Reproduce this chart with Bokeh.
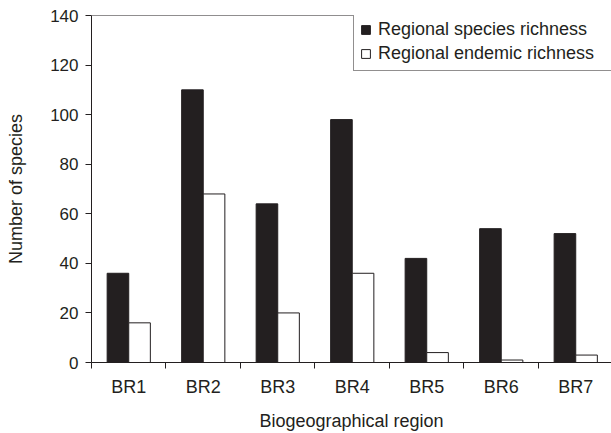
import numpy as np
from bokeh.plotting import figure
from bokeh.models import (ColumnDataSource, FixedTicker, LinearAxis, Legend, LegendItem,
                          Range1d, Span)
from bokeh.embed import file_html
from bokeh.resources import INLINE

categories = ["BR1", "BR2", "BR3", "BR4", "BR5", "BR6", "BR7"]
species_richness = [36, 110, 64, 98, 42, 54, 52]
endemic_richness = [16, 68, 20, 36, 4, 1, 3]
y_ticks = [0, 20, 40, 60, 80, 100, 120, 140]
series_names = ["Regional species richness", "Regional endemic richness"]

FONT = "Liberation Sans"
DARK = "#231f20"
BAR_W = 0.29

centers = np.arange(len(categories)) + 0.5
src = ColumnDataSource(dict(
    x_black=centers - BAR_W / 2,
    x_white=centers + BAR_W / 2,
    species=species_richness,
    endemic=endemic_richness,
))

p = figure(width=611, height=433, output_backend="svg", toolbar_location=None,
           x_range=Range1d(0, 6.98), y_range=Range1d(y_ticks[0], y_ticks[-1]),
           min_border_left=91, min_border_right=0, min_border_top=15,
           min_border_bottom=70, x_axis_type=None, outline_line_color=None)
p.grid.visible = False
p.background_fill_color = "white"
p.border_fill_color = "white"

r1 = p.vbar(x="x_black", top="species", width=BAR_W, source=src,
            fill_color=DARK, line_color=DARK, line_width=1)
r2 = p.vbar(x="x_white", top="endemic", width=BAR_W, source=src,
            fill_color="white", line_color=DARK, line_width=1)

# x axis: labels at category centres, ticks at category boundaries
xa = LinearAxis(axis_label="Biogeographical region")
xa.ticker = FixedTicker(ticks=list(centers),
                        minor_ticks=list(range(len(categories) + 1)))
xa.major_label_overrides = {float(c): lab for c, lab in zip(centers, categories)}
xa.major_tick_out = 0
xa.major_tick_in = 0
xa.minor_tick_out = 6
xa.minor_tick_in = 0
xa.minor_tick_line_color = DARK
xa.axis_line_color = DARK
xa.major_label_standoff = 8
xa.axis_label_standoff = 11
xa.major_label_text_font_size = "18px"
p.add_layout(xa, "below")

ya = p.yaxis[0]
ya.axis_label = "Number of species"
ya.ticker = FixedTicker(ticks=y_ticks, minor_ticks=[])
ya.major_tick_out = 6
ya.major_tick_in = 0
ya.major_tick_line_color = DARK
ya.axis_line_color = DARK
ya.major_label_standoff = 7
ya.axis_label_standoff = 21
ya.major_label_text_font_size = "17px"

for ax in (xa, ya):
    ax.major_label_text_font = FONT
    ax.major_label_text_color = DARK
    ax.axis_label_text_font = FONT
    ax.axis_label_text_font_size = "18px"
    ax.axis_label_text_font_style = "normal"
    ax.axis_label_text_color = DARK

# top frame line
p.add_layout(Span(location=y_ticks[-1], dimension="width", line_color=DARK, line_width=1))

legend = Legend(items=[LegendItem(label=series_names[0], renderers=[r1]),
                       LegendItem(label=series_names[1], renderers=[r2])],
                location=(262, 291))
legend.label_text_font = FONT
legend.label_text_font_size = "18px"
legend.label_text_color = DARK
legend.glyph_width = 11
legend.glyph_height = 11
legend.label_height = 21
legend.label_width = 240
legend.label_standoff = 7
legend.spacing = 3
legend.padding = 6
legend.margin = 0
legend.border_line_color = DARK
legend.border_line_width = 1
legend.background_fill_alpha = 1
p.add_layout(legend)

open("out.html", "w").write(file_html(p, INLINE))
